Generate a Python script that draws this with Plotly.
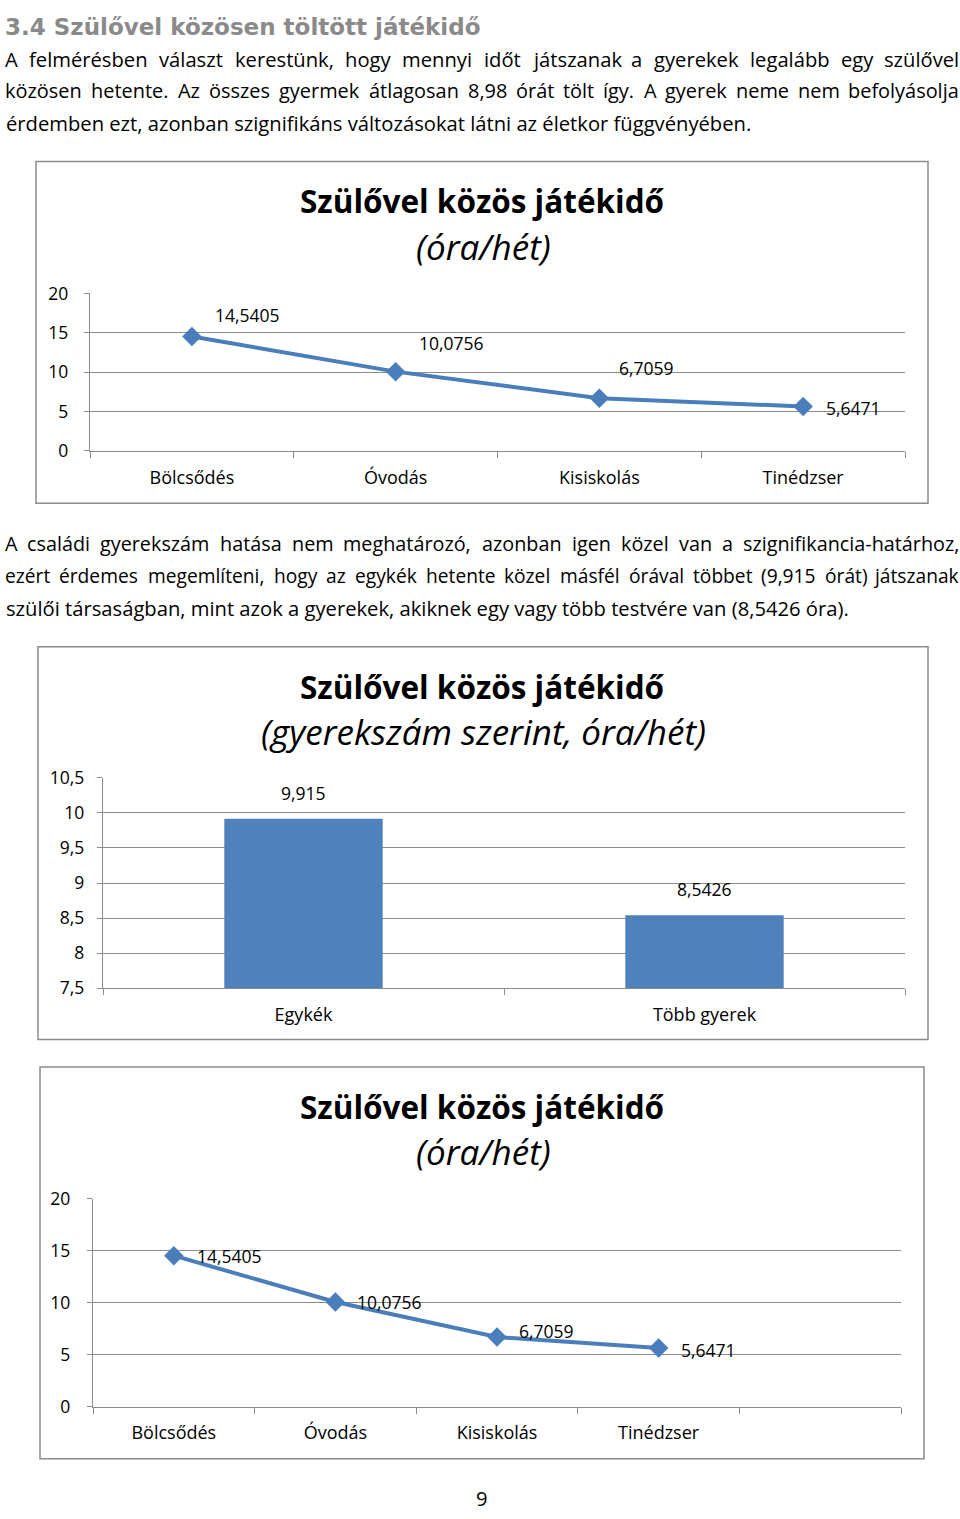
import plotly.graph_objects as go

# ---------------- data ----------------
stages = ["Bölcsődés", "Óvodás", "Kisiskolás", "Tinédzser"]
hours_stage = [14.5405, 10.0756, 6.7059, 5.6471]
groups = ["Egykék", "Több gyerek"]
hours_group = [9.915, 8.5426]
line_ticks = [0, 5, 10, 15, 20]
bar_ticks = [7.5, 8, 8.5, 9, 9.5, 10, 10.5]

heading = "3.4 Szülővel közösen töltött játékidő"
para1 = [
    ("A felmérésben választ kerestünk, hogy mennyi időt játszanak a gyerekek legalább egy szülővel", True),
    ("közösen hetente. Az összes gyermek átlagosan 8,98 órát tölt így. A gyerek neme nem befolyásolja", True),
    ("érdemben ezt, azonban szignifikáns változásokat látni az életkor függvényében.", False),
]
para2 = [
    ("A családi gyerekszám hatása nem meghatározó, azonban igen közel van a szignifikancia-határhoz,", True),
    ("ezért érdemes megemlíteni, hogy az egykék hetente közel másfél órával többet (9,915 órát) játszanak", True),
    ("szülői társaságban, mint azok a gyerekek, akiknek egy vagy több testvére van (8,5426 óra).", False),
]
title_main = "Szülővel közös játékidő"
sub1 = "(óra/hét)"
sub2 = "(gyerekszám szerint, óra/hét)"
page_no = "9"

W, H = 960, 1519
BLUE_LINE = "#4A7EBB"
BLUE_BAR = "#4F81BD"
GRID = "#8C8C8C"
FONT = "Open Sans"


def px(x):
    return x / W


def py(y):
    return 1 - y / H


def fmt(v):
    return f"{v}".replace(".", ",")


# approximate Open Sans advance widths (units per em 2048)
ADV = {" ": 532, ",": 502, ".": 545, "-": 659, "(": 606, ")": 606, "/": 752,
       "A": 1296, "O": 1599, "S": 1124,
       "a": 1139, "b": 1255, "c": 975, "d": 1255, "e": 1149, "f": 694, "g": 1122,
       "h": 1257, "i": 518, "j": 518, "k": 1075, "l": 518, "m": 1905, "n": 1257,
       "o": 1237, "p": 1255, "q": 1255, "r": 836, "s": 977, "t": 723, "u": 1257,
       "v": 1026, "w": 1593, "x": 1073, "y": 1028, "z": 977}
for d in "0123456789":
    ADV[d] = 1171
ACC = {"á": "a", "é": "e", "í": "i", "ó": "o", "ö": "o", "ő": "o", "ú": "u",
       "ü": "u", "ű": "u", "Ó": "O", "Á": "A"}


def tw(s, fs):
    return sum(ADV.get(ACC.get(c, c), 1139) for c in s) / 2048 * fs * 1.01


fig = go.Figure()

# ---------------- chart 1: line ----------------
fig.add_trace(go.Scatter(
    x=stages, y=hours_stage, mode="lines+markers",
    line=dict(color=BLUE_LINE, width=4),
    marker=dict(symbol="diamond", size=15, color=BLUE_LINE),
    xaxis="x", yaxis="y", hoverinfo="skip"))

# ---------------- chart 2: bars ----------------
fig.add_trace(go.Bar(
    x=groups, y=hours_group, marker=dict(color=BLUE_BAR, line=dict(width=0)),
    width=0.395, xaxis="x2", yaxis="y2", hoverinfo="skip"))

# ---------------- chart 3: line with empty slot ----------------
fig.add_trace(go.Scatter(
    x=stages, y=hours_stage, mode="lines+markers",
    line=dict(color=BLUE_LINE, width=4),
    marker=dict(symbol="diamond", size=15, color=BLUE_LINE),
    xaxis="x3", yaxis="y3", hoverinfo="skip"))

tickfont = dict(family=FONT, size=17.5, color="#000000")


def xax(domain, cats, rng, anchor):
    return dict(domain=domain, anchor=anchor, type="category",
                categoryorder="array", categoryarray=cats, range=rng,
                showgrid=False, showline=True, linecolor=GRID, linewidth=1.3,
                ticks="outside", tickson="boundaries", ticklen=6, tickcolor=GRID,
                tickwidth=1.3, tickfont=dict(family=FONT, size=18, color="#000000"),
                ticklabelstandoff=10, zeroline=False, fixedrange=True)


def yax(domain, rng, vals, anchor, standoff):
    return dict(domain=domain, anchor=anchor, range=rng, tickvals=vals,
                ticktext=[fmt(v) if v != int(v) else str(int(v)) for v in vals],
                showgrid=True, gridcolor=GRID, gridwidth=1.3,
                showline=True, linecolor=GRID, linewidth=1.3,
                ticks="outside", ticklen=5, tickcolor=GRID, tickwidth=1.3,
                tickfont=tickfont, ticklabelstandoff=standoff,
                zeroline=False, fixedrange=True)


fig.update_layout(
    width=W, height=H, margin=dict(l=0, r=0, t=0, b=0),
    paper_bgcolor="white", plot_bgcolor="white", showlegend=False,
    separators=", ",
    font=dict(family=FONT, color="#000000"),
    xaxis=xax([px(90), px(905)], stages, [-0.5, 3.5], "y"),
    yaxis=yax([py(445), py(285)], [0, 20], line_ticks, "x", 12),
    xaxis2=xax([px(103), px(905)], groups, [-0.5, 1.5], "y2"),
    yaxis2=yax([py(991), py(777)], [7.5, 10.5], bar_ticks, "x2", 9),
    xaxis3=xax([px(93), px(901)], stages + [" "], [-0.5, 4.5], "y3"),
    yaxis3=yax([py(1416), py(1205)], [0, 20], line_ticks, "x3", 13),
)

ann = []
shapes = []

# chart frames
for (x0, y0, x1, y1) in [(36, 151, 928, 498), (38, 644, 928, 1043), (40, 1071, 924, 1469)]:
    shapes.append(dict(type="rect", xref="paper", yref="paper",
                       x0=px(x0), x1=px(x1), y0=py(y0), y1=py(y1),
                       line=dict(color="#8C8C8C", width=1.5), fillcolor="rgba(0,0,0,0)"))

# chart titles
for (ty, sub, sy) in [(191, sub1, 237), (684, sub2, 730), (1111, sub1, 1157)]:
    ann.append(dict(text="<b>" + title_main + "</b>", xref="paper", yref="paper",
                    x=px(482), y=py(ty), xanchor="center", yanchor="middle",
                    showarrow=False, font=dict(family=FONT, size=31.5, color="#000000")))
    ann.append(dict(text="<i>" + sub + "</i>", xref="paper", yref="paper",
                    x=px(483), y=py(sy), xanchor="center", yanchor="middle",
                    showarrow=False, font=dict(family=FONT, size=35, color="#000000")))

lblfont = dict(family=FONT, size=17.5, color="#000000")
# data labels chart 1 (pixel offsets from markers)
off1 = [(21, 21), (21, 29), (18, 30), (21, -1)]
for c, v, (dx, dy) in zip(stages, hours_stage, off1):
    ann.append(dict(text=fmt(v), xref="x", yref="y", x=c, y=v, xanchor="left",
                    yanchor="middle", xshift=dx, yshift=dy, showarrow=False, font=lblfont))
# data labels chart 3
off3 = [(21, 0), (20, 0), (20, 6), (20, -2)]
for c, v, (dx, dy) in zip(stages, hours_stage, off3):
    ann.append(dict(text=fmt(v), xref="x3", yref="y3", x=c, y=v, xanchor="left",
                    yanchor="middle", xshift=dx, yshift=dy, showarrow=False, font=lblfont))
# bar labels
for c, v in zip(groups, hours_group):
    ann.append(dict(text=fmt(v), xref="x2", yref="y2", x=c, y=v, xanchor="center",
                    yanchor="bottom", yshift=12, showarrow=False, font=lblfont))

# heading
ann.append(dict(text="<b>" + heading + "</b>", xref="paper", yref="paper",
                x=px(3), y=py(14), xanchor="left", yanchor="middle", showarrow=False,
                font=dict(family="DejaVu Sans", size=23, color="#8A8A8A")))

# body paragraphs
BODY = 20.2


def place_line(text, justify, ycenter):
    if not justify:
        ann.append(dict(text=text, xref="paper", yref="paper", x=px(4), y=py(ycenter),
                        xanchor="left", yanchor="middle", showarrow=False,
                        font=dict(family=FONT, size=BODY, color="#000000")))
        return
    words = text.split(" ")
    fs = BODY
    natural = (sum(tw(w, fs) for w in words) + (len(words) - 1) * tw(" ", fs)) * 1.05
    if natural > 956:
        fs = fs * 956 / natural
    font = dict(family=FONT, size=fs, color="#000000")
    widths = [tw(w, fs) for w in words]
    gap = (956 - sum(widths)) / (len(words) - 1)
    x = 4.0
    for i, (w, wd) in enumerate(zip(words, widths)):
        if i == len(words) - 1:
            ann.append(dict(text=w, xref="paper", yref="paper", x=px(960), y=py(ycenter),
                            xanchor="right", yanchor="middle", showarrow=False,
                            font=font, borderpad=0))
        else:
            ann.append(dict(text=w, xref="paper", yref="paper", x=px(x), y=py(ycenter),
                            xanchor="left", yanchor="middle", showarrow=False,
                            font=font, borderpad=0))
        x += wd + gap


for (t, j), yc in zip(para1, [47, 79, 112]):
    place_line(t, j, yc)
for (t, j), yc in zip(para2, [539, 572, 605]):
    place_line(t, j, yc)

ann.append(dict(text=page_no, xref="paper", yref="paper", x=px(482), y=py(1509),
                xanchor="center", yanchor="middle", showarrow=False,
                font=dict(family=FONT, size=BODY, color="#000000")))

fig.update_layout(annotations=ann, shapes=shapes)
fig.write_html("out.html")
